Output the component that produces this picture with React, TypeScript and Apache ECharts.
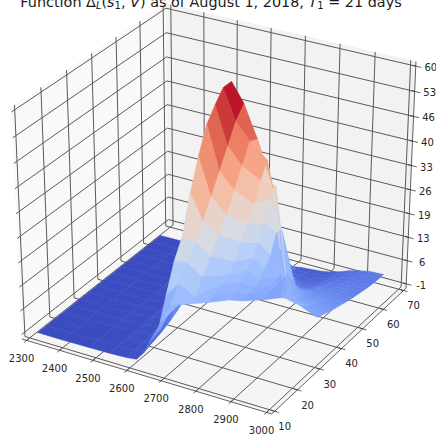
import React, { useEffect, useRef } from "react";
import * as echarts from "echarts";

const xTicks = [2300, 2400, 2500, 2600, 2700, 2800, 2900, 3000];
const yTicks = [10, 20, 30, 40, 50, 60, 70];
const zTickLabels = ["-1", "6", "13", "19", "26", "33", "40", "46", "53", "60"];
const zTickValues = [-1, 5.78, 12.56, 19.33, 26.11, 32.89, 39.67, 46.44, 53.22, 60];

const xs = [2325, 2400, 2480, 2540, 2590, 2620, 2640, 2660, 2695, 2730, 2760, 2790, 2820, 2846, 2870, 2900, 2930, 2960, 3000];
const frontY = [10, 10, 10, 10, 10, 10, 10, 10, 10, 12, 20, 24.5, 25.5, 31, 35, 31, 27.5, 29, 30.6];
const backY = 62;
const rowFractions = [0, 0.0667, 0.1333, 0.2, 0.2667, 0.3333, 0.4, 0.4667, 0.5333, 0.6, 0.6667, 0.7333, 0.8, 0.8667, 0.9333, 1];

const zColumns = [
  [0, 0, 0, 0, 0, 0, 0, 0, 0, 0, 0, 0, 0, 0, 0, 0],
  [0, 0, 0, 0, 0, 0, 0, 0, 0.1, 0.1, 0.1, 0.1, 0.1, 0.1, 0.1, 0.1],
  [0.1, 0.1, 0.1, 0.1, 0.2, 0.2, 0.2, 0.2, 0.3, 0.3, 0.3, 0.3, 0.3, 0.3, 0.2, 0.2],
  [0.2, 0.2, 0.3, 0.3, 0.4, 0.5, 0.6, 0.7, 0.8, 0.9, 0.9, 0.9, 0.8, 0.7, 0.5, 0.3],
  [0.4, 0.5, 0.7, 0.9, 1.2, 1.5, 2, 2.5, 3, 3.5, 3.5, 3.2, 2.6, 1.8, 1, 0.5],
  [0.8, 1.2, 1.8, 2.6, 3.6, 5, 6.5, 8, 10, 11, 11, 9.5, 7, 4, 2, 0.8],
  [3, 4, 5.5, 8, 11, 14, 18, 22, 26, 30, 30, 26, 17, 9, 4, 1.2],
  [7, 8, 16, 23.5, 28.5, 38.7, 46.8, 53.5, 57, 60, 60, 50, 35, 22, 10, 2],
  [13.5, 16, 20, 24, 28, 32, 37, 42, 47, 52, 55, 46, 32, 19, 7, 1.5],
  [18, 16.5, 16.5, 20, 24, 28, 32, 37, 42, 47, 46, 38, 24, 12, 5, 1.5],
  [15, 16, 17, 18, 20, 24, 28, 32, 37, 41, 32, 18, 6, 4, 3, 2],
  [14, 15, 16.5, 18, 20, 23, 27, 33, 35, 16, 9, 5, 3.5, 3, 2.5, 2.2],
  [14, 14.5, 15, 16, 18, 20, 25, 25, 10, 7, 5.5, 4.5, 3.5, 3, 2.7, 2.5],
  [12, 13, 14, 15, 16, 11, 8.5, 7, 6, 5.2, 4.5, 4, 3.6, 3.3, 3.1, 3],
  [11, 16, 15, 12.5, 10, 8.5, 7.5, 6.7, 6, 5.4, 5, 4.6, 4.3, 4, 3.8, 3.7],
  [14, 14.5, 14, 13, 11.5, 10.3, 9.3, 8.4, 7.7, 7, 6.4, 5.9, 5.5, 5.2, 5, 4.8],
  [16.6, 15.5, 14, 12.8, 11.7, 10.7, 9.8, 9, 8.3, 7.6, 7.1, 6.6, 6.2, 5.9, 5.7, 5.6],
  [14.7, 13.4, 12.3, 11.4, 10.6, 9.9, 9.2, 8.6, 8.1, 7.6, 7.2, 6.9, 6.6, 6.4, 6.3, 6.2],
  [11.5, 11, 10.4, 9.9, 9.4, 9, 8.6, 8.2, 7.8, 7.5, 7.2, 6.9, 6.7, 6.5, 6.4, 6.4],
];

const coolwarm = ["#3b4cc0", "#5977e3", "#7b9ff9", "#9ebeff", "#c0d4f5", "#dddcdc", "#f2cbb7", "#f7ac8e", "#ee8468", "#d65244", "#b40426"];
const colorMin = 0;
const colorMax = 58;

const X_MIN = 2300, X_MAX = 3000, Y_MIN = 10, Y_MAX = 70, Z_MIN = -1, Z_MAX = 60;
const PAD = 1 / 48;
const SX = 277, SY = 254, CX = 217, CY = 201.5, DIST = 10;

const nx = (v: number) => (v - X_MIN) / (X_MAX - X_MIN);
const ny = (v: number) => (v - Y_MIN) / (Y_MAX - Y_MIN);
const nz = (v: number) => (v - Z_MIN) / (Z_MAX - Z_MIN);

const R3 = Math.sqrt(3) / 2;
function project(a: number, b: number, c: number): [number, number] {
  const p = a - 0.5, q = b - 0.5, r = c - 0.5;
  const u = R3 * p + 0.5 * q;
  const v = -0.25 * p + 0.433013 * q + R3 * r;
  const n = 0.433013 * p - 0.75 * q + 0.5 * r;
  const f = DIST / (DIST - n);
  return [CX + SX * f * u, CY - SY * f * v];
}
const depth = (a: number, b: number, c: number) => 0.433013 * (a - 0.5) - 0.75 * (b - 0.5) + 0.5 * (c - 0.5);

function hex(c: string) {
  return [1, 3, 5].map((i) => parseInt(c.slice(i, i + 2), 16));
}
function colorOf(z: number) {
  const t = Math.max(0, Math.min(0.9999, (z - colorMin) / (colorMax - colorMin))) * (coolwarm.length - 1);
  const i = Math.floor(t);
  const A = hex(coolwarm[i]), B = hex(coolwarm[i + 1]);
  const k = t - i;
  return `rgb(${A.map((v, m) => Math.round(v + (B[m] - v) * k)).join(",")})`;
}

const lo = -PAD, hi = 1 + PAD;

type Item = { pts: [number, number][]; fill?: string; stroke?: string; width?: number };

function buildFrame(): Item[] {
  const items: Item[] = [];
  const face = (c: [number, number, number][], fill: string) => items.push({ pts: c.map((q) => project(q[0], q[1], q[2])), fill });
  face([[lo, lo, lo], [lo, hi, lo], [lo, hi, hi], [lo, lo, hi]], "#f9f9f9");
  face([[lo, hi, lo], [hi, hi, lo], [hi, hi, hi], [lo, hi, hi]], "#f2f2f2");
  face([[lo, lo, lo], [hi, lo, lo], [hi, hi, lo], [lo, hi, lo]], "#f5f5f5");
  const gridColor = "#5a5a5a";
  const line = (c: [number, number, number][], stroke = gridColor, width = 1) =>
    items.push({ pts: c.map((q) => project(q[0], q[1], q[2])), stroke, width });
  xTicks.forEach((t) => {
    const a = nx(t);
    line([[a, lo, lo], [a, hi, lo], [a, hi, hi]]);
  });
  yTicks.forEach((t) => {
    const b = ny(t);
    line([[hi, b, lo], [lo, b, lo], [lo, b, hi]]);
  });
  zTickValues.forEach((t) => {
    const c = nz(t);
    line([[lo, lo, c], [lo, hi, c], [hi, hi, c]]);
  });
  const axisColor = "#3a3a3a";
  line([[lo, lo, lo], [hi, lo, lo]], axisColor, 0.8);
  line([[hi, lo, lo], [hi, hi, lo]], axisColor, 0.8);
  line([[hi, hi, lo], [hi, hi, hi]], axisColor, 0.8);
  xTicks.forEach((t) => {
    const a = nx(t);
    line([[a, lo + 0.014, lo], [a, lo - 0.016, lo]], axisColor, 0.8);
  });
  yTicks.forEach((t) => {
    const b = ny(t);
    line([[hi - 0.014, b, lo], [hi + 0.016, b, lo]], axisColor, 0.8);
  });
  zTickValues.forEach((t) => {
    const c = nz(t);
    line([[hi - 0.014, hi, c], [hi + 0.022, hi, c]], axisColor, 0.8);
  });
  return items;
}

function buildSurface(): Item[] {
  const rows = rowFractions.length;
  const node = (j: number, i: number) => {
    const y = frontY[j] + (backY - frontY[j]) * rowFractions[i];
    return [nx(xs[j]), ny(y), nz(zColumns[j][i]), zColumns[j][i]];
  };
  const cells: (Item & { d: number })[] = [];
  for (let j = 0; j < xs.length - 1; j++) {
    for (let i = 0; i < rows - 1; i++) {
      const q = [node(j, i), node(j + 1, i), node(j + 1, i + 1), node(j, i + 1)];
      const mean = q.reduce((s, p) => s + p[3], 0) / 4;
      const d = q.reduce((s, p) => s + depth(p[0], p[1], p[2]), 0) / 4;
      const col = colorOf(mean);
      cells.push({ pts: q.map((p) => project(p[0], p[1], p[2])), fill: col, stroke: col, width: 0.5, d });
    }
  }
  cells.sort((a, b) => a.d - b.d);
  return cells;
}

type Label = { text: string; at: [number, number] };
function buildLabels(): Label[] {
  const out: Label[] = [];
  xTicks.forEach((t) => {
    const p = project(nx(t), lo, lo);
    out.push({ text: String(t), at: [p[0] - 5, p[1] + 18] });
  });
  yTicks.forEach((t) => {
    const p = project(hi, ny(t), lo);
    out.push({ text: String(t), at: [p[0] + 10, p[1] + 15.2] });
  });
  zTickValues.forEach((t, k) => {
    const p = project(hi, hi, nz(t));
    out.push({ text: zTickLabels[k], at: [p[0] + 15, p[1] + 1.5] });
  });
  return out;
}

function shapeSeries(id: string, items: Item[], z: number) {
  return {
    id,
    type: "custom",
    coordinateSystem: "none",
    silent: true,
    z,
    data: items.map((_, i) => [i]),
    renderItem: (p: any) => {
      const it = items[p.dataIndex];
      if (it.fill) {
        return {
          type: "polygon",
          shape: { points: it.pts },
          style: { fill: it.fill, stroke: it.stroke ?? "none", lineWidth: it.width ?? 0 },
        };
      }
      return {
        type: "polyline",
        shape: { points: it.pts },
        style: { fill: "none", stroke: it.stroke, lineWidth: it.width, lineJoin: "round" },
      };
    },
  };
}

export default function App() {
  const ref = useRef<HTMLDivElement>(null);
  useEffect(() => {
    document.body.style.margin = "0";
    const chart = echarts.init(ref.current!, undefined, { renderer: "svg" });
    const labels = buildLabels();
    chart.setOption({
      animation: false,
      backgroundColor: "#fff",
      graphic: [
        {
          type: "text",
          x: 211,
          y: 2,
          z: 50,
          style: {
            text: "Function Δ{si|L}({i|s}{sub|1}, {i|V}) as of August 1, 2018, {i|T}{sub|1} = 21 days",
            x: 0,
            y: 0,
            align: "center",
            verticalAlign: "middle",
            fill: "#1a1a1a",
            font: '14.4px "DejaVu Sans"',
            rich: {
              sub: { font: '10px "DejaVu Sans"', fill: "#1a1a1a", padding: [7, 0, 0, 0] },
              si: { font: 'italic 10px "DejaVu Sans"', fill: "#1a1a1a", padding: [7, 0, 0, 0] },
              i: { font: 'italic 14.4px "DejaVu Sans"', fill: "#1a1a1a" },
            },
          },
        },
      ],
      series: [
        shapeSeries("frame", buildFrame(), 1),
        shapeSeries("surface", buildSurface(), 2),
        {
          id: "ticks",
          type: "custom",
          coordinateSystem: "none",
          silent: true,
          z: 3,
          data: labels.map((_, i) => [i]),
          renderItem: (p: any) => {
            const l = labels[p.dataIndex];
            return {
              type: "text",
              x: l.at[0],
              y: l.at[1],
              style: {
                text: l.text,
                align: "center",
                verticalAlign: "middle",
                fill: "#262626",
                font: '10px "DejaVu Sans"',
              },
            };
          },
        },
      ],
    });
    return () => chart.dispose();
  }, []);
  return <div ref={ref} style={{ width: 436, height: 435, position: "absolute", left: 0, top: 0 }} />;
}
